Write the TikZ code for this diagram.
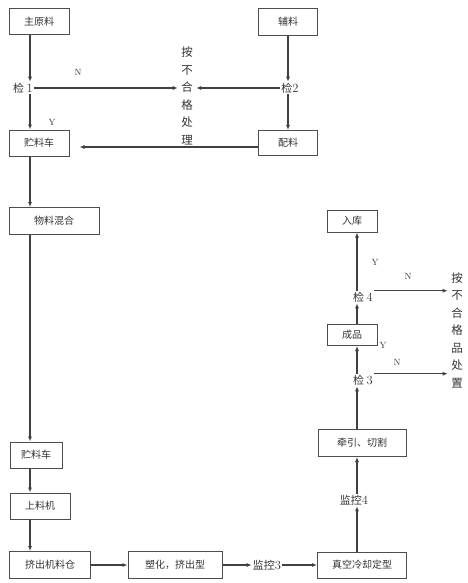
\documentclass[tikz,border=0pt]{standalone}
\usepackage{fontspec}
\usetikzlibrary{arrows.meta}
\newfontfamily\cjk{Noto Sans CJK SC}
\newcommand\jnum[1]{{\rmfamily\fontsize{12.5}{13}\selectfont #1}}
\begin{document}
\begin{tikzpicture}[x=1pt,y=-1pt,font=\cjk\fontsize{10}{12}\selectfont,
  box/.style={draw=black!70,line width=1pt,inner sep=1pt,text=black!80},
  lab/.style={text=black!80,inner sep=1pt,font=\cjk\fontsize{11}{13}\selectfont},
  yn/.style={font=\rmfamily\fontsize{9}{11}\selectfont,text=black!80},
  vtext/.style={text=black!80,align=center,font=\cjk\fontsize{11.5}{17.5}\selectfont},
  flow/.style={-{Latex[length=5pt,width=4pt]},draw=black!75,line width=1.1pt}]
\useasboundingbox (0,0) rectangle (468,583);
% column lines: left chain and right chain
\coordinate (lc) at (30,0);
\coordinate (rc) at (357,0);
% boxes: name/x/y/width/height/text
\foreach \nm/\x/\y/\w/\h/\txt in {
  zhu/39/22/60/26/主原料, fu/288/22/59/27/辅料, pei/288/143/59/25/配料,
  cheA/39/143/60/26/贮料车, hun/54/221/90/27/物料混合, cheB/36/455/52/26/贮料车,
  shang/40/506/60/26/上料机, cang/50/565/81/27/挤出机料仓, su/175/565/94/27/{塑化，挤出型},
  zhen/362/565/89/26/真空冷却定型, qian/362/443/88/27/{牵引、切割},
  cheng/352/335/50/21/成品, ru/352/221/50/22/入库}{
  \node[box,minimum width=\w pt,minimum height=\h pt] (\nm) at (\x,\y) {\txt};}
% check points and monitors
\node[lab] (j1) at (23,88) {检\ \jnum{1}};
\node[lab] (j2) at (290,88) {检\jnum{2}};
\node[lab] (j3) at (363,380) {检\ \jnum{3}};
\node[lab] (j4) at (363,297) {检\ \jnum{4}};
\node[lab] (m3) at (267,565) {监控\jnum{3}};
\node[lab] (m4) at (354,500) {监控\jnum{4}};
% reject texts
\node[vtext] (bad1) at (187,96) {按\\不\\合\\格\\处\\理};
\node[vtext] (bad2) at (457,330) {按\\不\\合\\格\\品\\处\\置};
% upper part
\draw[flow] (zhu.south -| lc) -- (j1.north -| lc);
\draw[flow] (j1.south -| lc) -- (cheA.north -| lc);
\draw[flow] (j1.east) -- (bad1.west |- j1.east);
\draw[flow] (fu.south) -- (fu.south |- j2.north);
\draw[flow] (j2.west) -- (bad1.east |- j2.west);
\draw[flow] (pei.south |- j2.south) -- (pei.north);
\draw[flow,shorten >=10pt] (pei.west |- 0,147) -- (cheA.east |- 0,147);
\node[yn] at (78,72) {N};
\node[yn] at (52,122) {Y};
% left chain down
\draw[flow] (cheA.south -| lc) -- (hun.north -| lc);
\draw[flow] (hun.south -| lc) -- (cheB.north -| lc);
\draw[flow] (cheB.south -| lc) -- (shang.north -| lc);
\draw[flow] (shang.south -| lc) -- (cang.north -| lc);
% bottom row
\draw[flow] (cang.east) -- (su.west);
\draw[flow] (su.east) -- (m3.west);
\draw[flow] (m3.east) -- (zhen.west);
% right chain up
\draw[flow] (zhen.north -| rc) -- (m4.south -| rc);
\draw[flow] (m4.north -| rc) -- (qian.south -| rc);
\draw[flow] (qian.north -| rc) -- (j3.south -| rc);
\draw[flow] (j3.north -| rc) -- (cheng.south -| rc);
\draw[flow] (cheng.north -| rc) -- (j4.south -| rc);
\draw[flow] (j4.north -| rc) -- (ru.south -| rc);
\draw[flow] (j4.north east) -- (bad2.west |- j4.north east);
\draw[flow] (j3.north east) -- (bad2.west |- j3.north east);
\node[yn] at (375,262) {Y};
\node[yn] at (383,345) {Y};
\node[yn] at (408,276) {N};
\node[yn] at (397,362) {N};
\end{tikzpicture}
\end{document}
